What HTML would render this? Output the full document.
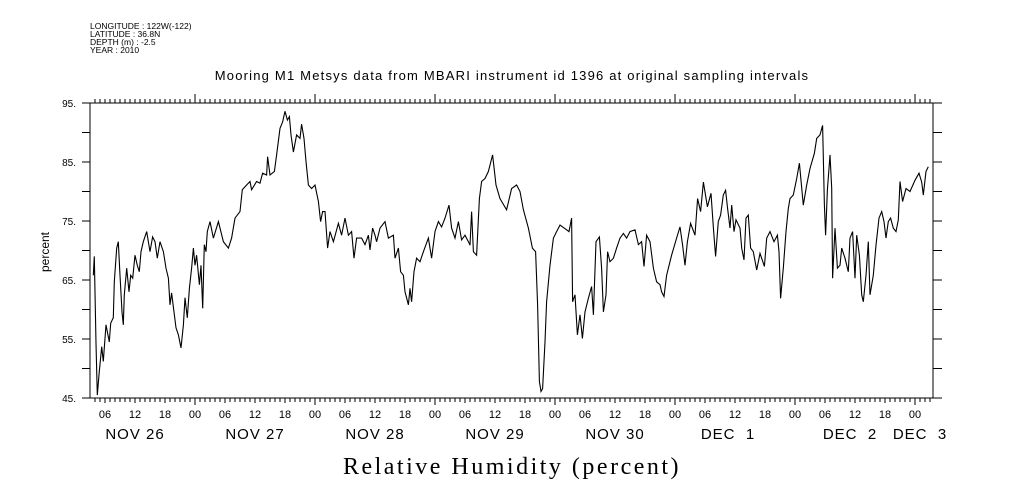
<!DOCTYPE html>
<html><head><meta charset="utf-8"><style>
html,body{margin:0;padding:0;background:#fff}
svg{display:block}
text{font-family:"Liberation Sans",sans-serif;fill:#000}
</style></head><body>
<svg id="chart" width="1009" height="504" viewBox="0 0 1009 504" xmlns="http://www.w3.org/2000/svg">
<g font-size="8.5">
<text x="90" y="29">LONGITUDE : 122W(-122)</text>
<text x="90" y="37">LATITUDE : 36.8N</text>
<text x="90" y="45">DEPTH (m) : -2.5</text>
<text x="90" y="53">YEAR : 2010</text>
</g>
<text x="512" y="80" font-size="13" letter-spacing="1.2" text-anchor="middle">Mooring M1 Metsys data from MBARI instrument id 1396 at original sampling intervals</text>
<text x="0" y="0" font-size="12" text-anchor="middle" transform="translate(49,252) rotate(-90)">percent</text>
<text x="512" y="474" font-size="24" letter-spacing="2.5" text-anchor="middle" style="font-family:'Liberation Serif',serif">Relative Humidity (percent)</text>
<g id="axes"></g>
<path id="line" fill="none" stroke="#000" stroke-width="1.1"/>
</svg>
<script>
// hours since NOV 26 00:00
const hours = [3.67,3.87,4.2,4.47,4.87,5.33,5.67,6.2,6.87,7.13,7.67,7.87,8.33,8.67,9,9.4,9.67,9.87,10.33,10.8,11.13,11.53,12,12.47,12.87,13.2,13.67,14.33,15,15.53,16,16.47,17,17.67,18.2,18.67,19,19.33,19.8,20.2,20.67,21.2,21.67,22,22.47,22.87,23.33,23.67,24,24.33,24.87,25.2,25.53,25.87,26.2,26.47,27,27.67,28.67,29.67,30.67,31.33,32,33,33.47,34.33,35,35.33,36.33,37,37.53,38.33,38.53,39,39.87,40.33,41,41.53,42,42.47,42.87,43.2,43.67,44.33,45,45.33,45.8,46.2,46.67,47.33,48,48.67,49.13,49.53,50,50.53,51,51.67,52.67,53.33,54,54.67,55.33,55.8,56.33,57.33,58,58.67,59,59.53,60,60.33,61,62,62.67,63.67,64,64.67,65.13,65.67,66,66.67,67,67.33,67.8,68.33,69,69.67,70.67,71.33,72,72.67,73.33,74,74.8,75.33,76,76.67,77.33,78,78.67,79,79.33,79.67,80.33,80.87,81.33,82,82.67,83.53,84.2,85,86.33,87.33,88.33,89,89.67,90.67,91.47,92.13,92.53,92.87,93.2,93.53,94,94.33,95,95.67,96.33,97,98.33,98.8,99.33,99.53,100,100.47,101,101.47,102,102.67,103.33,103.67,104.2,104.87,105.33,105.67,106.2,106.53,107,107.67,108.33,109,109.67,110.33,111,112,112.67,113.33,113.8,114.33,115,115.67,116.33,117,117.33,117.8,118.33,119.33,120.33,121,121.53,122,122.47,123.13,124,124.53,125.13,125.67,126.47,127.2,127.67,128.13,128.67,129.13,129.67,130.13,130.53,131,131.33,131.8,132.2,133,133.33,133.8,134.2,134.67,135.13,135.67,136.33,137,137.87,138.33,139,139.8,140.47,140.8,141.13,141.67,142.2,142.67,143,143.67,144.33,144.87,145.67,146.33,147,147.87,148.33,149,149.53,149.87,150.13,150.47,151,151.33,151.53,152,152.47,153,153.33,154,154.67,155,155.53,156,156.33,156.87,157.33,157.67,158.2,158.67,159,159.67,160.2,160.8,161.33,161.8,162.2,162.67,163.13,163.67,164.2,164.67,165,165.53,166.2,167,168,168.8,169.33,169.67,170.2,170.67];
const humidity = [65.8,69.0,54.3,45.5,49.5,53.7,51.2,57.4,54.5,57.7,58.6,64.7,70.4,71.5,65.8,59.6,57.4,62.5,67.0,63.0,65.8,65.3,69.2,67.5,66.4,69.8,71.5,73.2,69.8,72.3,71.5,68.7,71.5,69.8,67.0,65.3,60.8,62.8,59.6,56.9,55.7,53.5,57.4,62.0,58.6,63.6,67.0,70.4,67.5,69.2,64.2,67.5,60.2,71.0,69.8,73.2,74.9,72.1,74.9,71.5,70.4,72.1,75.5,76.6,80.3,81.1,81.7,80.3,81.7,81.4,83.1,82.8,85.9,82.8,83.4,86.2,90.7,91.8,93.6,92.1,92.7,89.6,86.7,89.6,89.0,91.4,89.0,85.1,81.1,80.5,81.1,78.3,74.9,76.6,76.6,70.4,73.2,71.5,74.6,72.6,75.5,72.6,73.2,68.7,72.1,72.1,71.0,72.6,70.1,73.8,72.6,71.5,73.8,74.9,72.1,72.6,68.7,70.4,66.4,65.8,63.0,60.8,63.6,61.3,66.4,68.7,68.1,69.8,72.1,68.7,73.2,74.9,74.0,75.5,77.7,73.8,72.1,74.9,71.8,72.6,71.5,70.9,76.6,69.8,69.2,78.8,81.7,82.2,83.4,86.2,81.1,78.8,76.9,80.5,81.1,80.0,76.9,73.8,70.4,69.8,60.8,47.8,46.1,46.6,54.5,61.3,67.5,72.1,73.2,74.3,73.5,73.2,75.5,61.3,62.5,55.7,59.1,55.1,59.6,61.9,63.9,59.1,71.5,72.3,67.0,59.6,62.5,69.8,68.1,68.7,70.4,72.1,72.9,72.1,73.2,73.5,71.0,71.5,67.3,72.6,71.5,67.0,64.7,64.2,63.0,62.2,65.8,69.2,72.1,74.0,70.9,67.5,71.5,74.6,72.6,78.8,76.6,81.6,77.4,79.7,73.8,69.0,74.9,76.0,79.4,80.2,77.1,73.8,77.7,73.2,75.2,73.8,70.4,68.4,75.5,76.0,70.4,69.8,66.7,69.5,67.3,72.1,73.2,71.5,72.6,69.8,61.9,67.0,73.2,77.1,78.8,79.4,82.2,84.8,77.7,81.1,83.9,86.5,89.0,89.6,91.2,77.7,72.6,80.3,86.2,80.6,65.3,73.8,67.0,67.5,70.4,68.7,66.4,72.1,73.2,65.3,72.6,69.2,62.5,61.3,65.8,71.5,62.5,65.8,70.9,75.5,76.6,74.9,72.1,74.9,75.5,73.8,73.2,75.2,81.7,78.3,80.5,80.0,81.9,83.1,81.6,79.4,83.4,84.2];
const yTickValues = [45,55,65,75,85,95];
const yTickLabels = ["45.","55.","65.","75.","85.","95."];
const hourLabels = ["00","06","12","18"];
const dayLabels = ["NOV 26","NOV 27","NOV 28","NOV 29","NOV 30","DEC  1","DEC  2","DEC  3"];
const dayLabelHours = [12,36,60,84,108,130.6,155,169];

const L=90,R=933,T=103,B=398;
const H0=3, H1=171.6;
const xs=h=>75+h*5;
const ys=v=>T+(95-v)*(B-T)/50;
const NS="http://www.w3.org/2000/svg";
const ax=document.getElementById('axes');
function mk(tag,attrs){const e=document.createElementNS(NS,tag);for(const k in attrs)e.setAttribute(k,attrs[k]);ax.appendChild(e);return e;}
let d=`M${L},${T}H${R}V${B}H${L}Z`;
for(let h=Math.ceil(H0);h<=H1;h++){
  const x=xs(h);if(x<=L||x>=R)continue;
  const day=h%24===0, six=h%6===0;
  const lt=day?9:4, lb=day?7:(six?5:4);
  d+=`M${x},${T}v${-lt}M${x},${B}v${lb}`;
}
for(let v=45;v<=95;v+=5){const y=ys(v);d+=`M${L-8},${y}H${L}M${R},${y}H${R+9}`;}
const fr=mk('path',{d:d,fill:'none',stroke:'#000','stroke-width':1});


yTickValues.forEach((v,i)=>{
  const t=mk('text',{x:76,y:ys(v)+4,'font-size':10,'text-anchor':'end'});
  t.textContent=yTickLabels[i];
  
  
});
for(let h=6;h<=H1;h+=6){
  const t=mk('text',{x:xs(h),y:418,'font-size':11,'text-anchor':'middle'});
  t.textContent=hourLabels[(h/6)%4];
  
  
}
dayLabels.forEach((s,i)=>{
  const t=mk('text',{x:xs(dayLabelHours[i]),y:439,'font-size':15,'letter-spacing':1,'text-anchor':'middle'});
  t.setAttribute('style','white-space:pre');
  t.textContent=s;
  
  
});
let p='';
hours.forEach((h,i)=>{p+=(i?'L':'M')+xs(h).toFixed(1)+','+ys(humidity[i]).toFixed(1);});
document.getElementById('line').setAttribute('d',p);
</script>
</body></html>
